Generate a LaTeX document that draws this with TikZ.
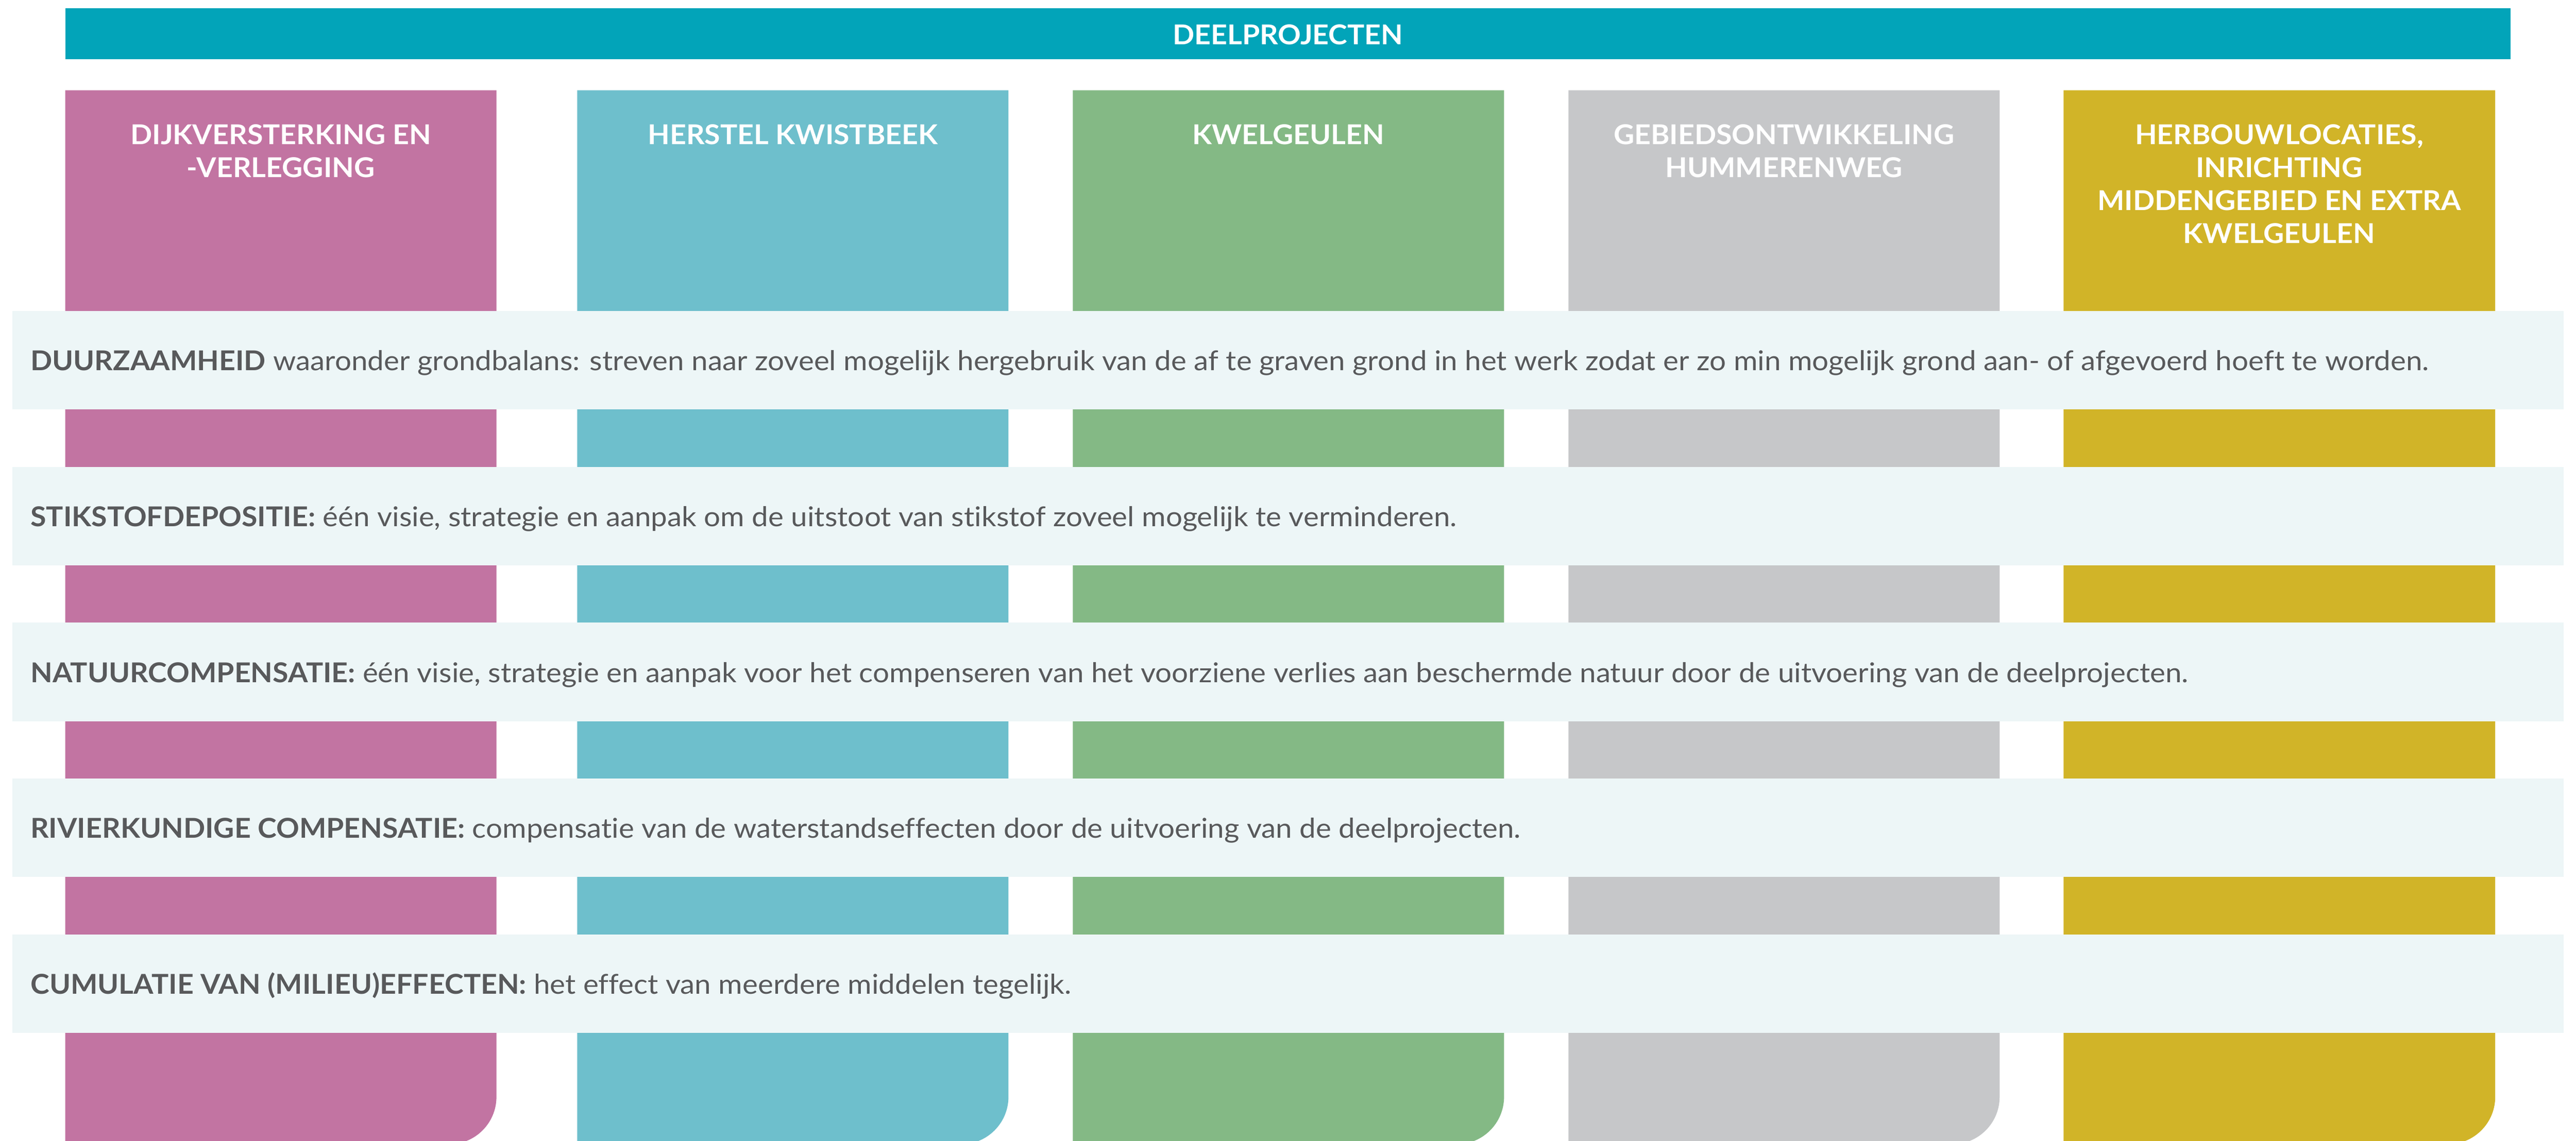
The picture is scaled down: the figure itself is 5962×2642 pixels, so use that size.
\documentclass[tikz,border=0pt]{standalone}
\usepackage{fontspec}
\setmainfont{Lato}[FakeStretch=1.065, Ligatures=NoCommon, BoldFeatures={FakeStretch=1.045}]
\definecolor{banner}{HTML}{02A4B9}
\definecolor{cpink}{HTML}{C274A2}
\definecolor{cteal}{HTML}{6EBFCC}
\definecolor{cgreen}{HTML}{84B985}
\definecolor{cgray}{HTML}{C6C7C9}
\definecolor{cgold}{HTML}{D1B428}
\definecolor{bandbg}{HTML}{EDF6F7}
\definecolor{txt}{HTML}{58595B}
\tikzset{
  coltitle/.style={anchor=north, inner sep=0pt, align=center, text=white,
    font=\fontsize{18}{21.6}\selectfont\bfseries},
  bandtext/.style={anchor=base west, inner sep=0pt, text=txt,
    font=\fontsize{18}{21.6}\selectfont},
  bandbox/.style={fill=bandbg, draw=none},
}
\newcommand{\colbar}[3]{%
  \fill[#3] (#1,209) -- (#2,209) -- (#2,2540) arc (0:90:110) -- (#1,2650) -- cycle;}
\begin{document}
\begin{tikzpicture}[x=0.01cm,y=-0.01cm]
\useasboundingbox (0,0) rectangle (5962,2642);
\fill[white] (0,0) rectangle (5962,2642);
% banner
\fill[banner] (152,19) rectangle (5810,137);
\node[anchor=base, inner sep=0pt, text=white, font=\fontsize{18}{21.6}\selectfont\bfseries] (banner) at (2981,103) {DEELPROJECTEN};
% columns
\colbar{151}{1149}{cpink}
\colbar{1336}{2334}{cteal}
\colbar{2483}{3481}{cgreen}
\colbar{3630}{4628}{cgray}
\colbar{4776}{5775}{cgold}
\node[coltitle] (c1) at (650,288) {DIJKVERSTERKING EN\\-VERLEGGING};
\node[coltitle] (c2) at (1835,288) {HERSTEL KWISTBEEK};
\node[coltitle] (c3) at (2982,288) {KWELGEULEN};
\node[coltitle] (c4) at (4129,288) {GEBIEDSONTWIKKELING\\HUMMERENWEG};
\node[coltitle] (c5) at (5275,288) {HERBOUWLOCATIES,\\INRICHTING\\MIDDENGEBIED EN EXTRA\\KWELGEULEN};
% bands
\foreach \i in {0,...,4}{
  \fill[bandbox] (29,720+361*\i) rectangle (5933,948+361*\i);
}
\node[bandtext] (b1) at (70,858) {\textbf{DUURZAAMHEID} waaronder grondbalans: streven naar zoveel mogelijk hergebruik van de af te graven grond in het werk zodat er zo min mogelijk grond aan- of afgevoerd hoeft te worden.};
\node[bandtext] (b2) at (70,1219) {\textbf{STIKSTOFDEPOSITIE:} één visie, strategie en aanpak om de uitstoot van stikstof zoveel mogelijk te verminderen.};
\node[bandtext] (b3) at (70,1580) {\textbf{NATUURCOMPENSATIE:} één visie, strategie en aanpak voor het compenseren van het voorziene verlies aan beschermde natuur door de uitvoering van de deelprojecten.};
\node[bandtext] (b4) at (70,1941) {\textbf{RIVIERKUNDIGE COMPENSATIE:} compensatie van de waterstandseffecten door de uitvoering van de deelprojecten.};
\node[bandtext] (b5) at (70,2302) {\textbf{CUMULATIE VAN (MILIEU)EFFECTEN:} het effect van meerdere middelen tegelijk.};
\end{tikzpicture}
\end{document}
